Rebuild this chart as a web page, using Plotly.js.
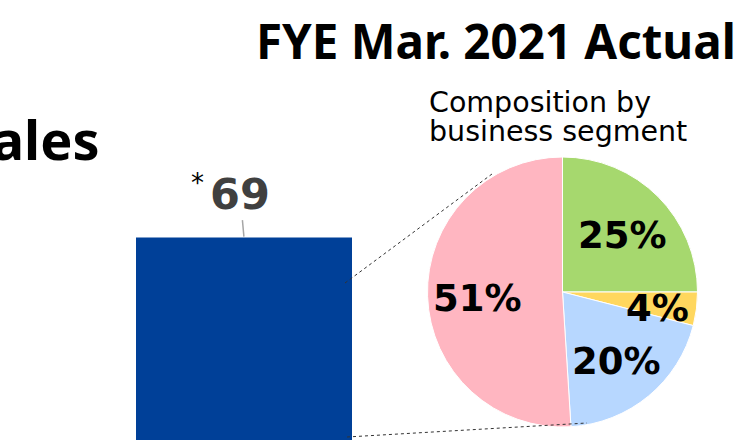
<!DOCTYPE html>
<html>
<head>
<meta charset="utf-8">
<script src="https://cdn.plot.ly/plotly-3.0.1.min.js"></script>
<style>
  html, body { margin: 0; padding: 0; background: #ffffff; }
  #chart { width: 737px; height: 440px; }
</style>
</head>
<body>
<div id="chart"></div>
<script>
// ---- data ----
const categories = ['FYE Mar. 2021 Actual'];
const salesValues = [69];
const salesLabels = ['69'];
const segmentNames = ['Segment 1', 'Segment 2', 'Segment 3', 'Segment 4'];
const segmentShares = [25, 4, 20, 51];
const segmentColors = ['#A6D86E', '#FFD75E', '#B7D7FF', '#FFB6C1'];

// ---- layout helpers (pixel -> paper) ----
const W = 737, H = 440;
const px = x => x / W;
const py = y => 1 - y / H;

const pieLeft = 427, pieRight = 698, pieTop = 157, pieBottom = 427;
const pieCx = (pieLeft + pieRight) / 2, pieCy = (pieTop + pieBottom) / 2;
const pieR = Math.min(pieRight - pieLeft, pieBottom - pieTop) / 2;

const barTrace = {
  type: 'bar',
  x: categories,
  y: salesValues,
  width: 1,
  marker: { color: '#004098' },
  hoverinfo: 'none',
  xaxis: 'x', yaxis: 'y'
};

const pieTrace = {
  type: 'pie',
  labels: segmentNames,
  values: segmentShares,
  sort: false,
  direction: 'clockwise',
  rotation: 0,
  textinfo: 'none',
  hoverinfo: 'none',
  showlegend: false,
  marker: { colors: segmentColors, line: { color: '#ffffff', width: 1 } },
  domain: { x: [px(pieLeft), px(pieRight)], y: [py(pieBottom), py(pieTop)] }
};

// pie percentage labels computed from the share values
const total = segmentShares.reduce((a, b) => a + b, 0);
let cum = 0;
const pieAnnotations = segmentShares.map(v => {
  const mid = (cum + v / 2) / total * 2 * Math.PI;
  cum += v;
  const f = v < 10 ? 0.71 : 0.63;
  const x = pieCx + f * pieR * Math.sin(mid);
  const y = pieCy - f * pieR * Math.cos(mid);
  return {
    xref: 'paper', yref: 'paper', x: px(x), y: py(y),
    xanchor: 'center', yanchor: 'middle', showarrow: false, yshift: -4,
    text: Math.round(v / total * 100) + '%',
    font: { family: 'DejaVu Sans', size: 37, color: '#000000', weight: 'bold' }
  };
});

const annotations = [
  {
    xref: 'paper', yref: 'paper', x: px(254), y: py(40),
    xanchor: 'left', yanchor: 'middle', showarrow: false,
    text: '<b>FYE Mar. 2021 Actual</b>',
    font: { family: 'Noto Sans', size: 47.5, color: '#000000' }
  },
  {
    xref: 'paper', yref: 'paper', x: px(102), y: py(139),
    xanchor: 'right', yanchor: 'middle', showarrow: false,
    text: '<b>Sales</b>',
    font: { family: 'Noto Sans', size: 54, color: '#000000' }
  },
  {
    xref: 'paper', yref: 'paper', x: px(427), y: py(102),
    xanchor: 'left', yanchor: 'middle', showarrow: false,
    text: 'Composition by',
    font: { family: 'DejaVu Sans', size: 28.5, color: '#000000' }
  },
  {
    xref: 'paper', yref: 'paper', x: px(427), y: py(131),
    xanchor: 'left', yanchor: 'middle', showarrow: false,
    text: 'business segment',
    font: { family: 'DejaVu Sans', size: 28.5, color: '#000000' }
  },
  {
    xref: 'x', yref: 'y', x: categories[0], y: salesValues[0],
    text: '<b>' + salesLabels[0] + '</b>',
    showarrow: true, arrowhead: 0, arrowwidth: 1.5, arrowcolor: '#a6a6a6',
    ax: -4, ay: -44, standoff: 1,
    font: { family: 'DejaVu Sans', size: 43, color: '#404040' }
  },
  {
    xref: 'x', yref: 'y', x: categories[0], y: salesValues[0],
    xanchor: 'center', yanchor: 'middle', showarrow: false,
    xshift: -47, yshift: 55,
    text: '*',
    font: { family: 'DejaVu Sans', size: 26, color: '#000000' }
  }
].concat(pieAnnotations);

const shapes = [
  { type: 'line', xref: 'paper', yref: 'paper',
    x0: px(345), y0: py(283), x1: px(492), y1: py(174),
    line: { color: '#333333', width: 1, dash: 'dot' } },
  { type: 'line', xref: 'paper', yref: 'paper',
    x0: px(347), y0: py(437), x1: px(587), y1: py(423),
    line: { color: '#333333', width: 1, dash: 'dot' } }
];

const layout = {
  width: W, height: H,
  margin: { l: 0, r: 0, t: 0, b: 0 },
  paper_bgcolor: '#ffffff', plot_bgcolor: 'rgba(0,0,0,0)',
  showlegend: false,
  xaxis: { domain: [px(136), px(352)], range: [-0.5, 0.5], visible: false, fixedrange: true },
  yaxis: { domain: [0, 1], range: [0, 150], visible: false, fixedrange: true },
  annotations: annotations,
  shapes: shapes
};

Plotly.newPlot('chart', [barTrace, pieTrace], layout, { staticPlot: true, displayModeBar: false });
</script>
</body>
</html>
